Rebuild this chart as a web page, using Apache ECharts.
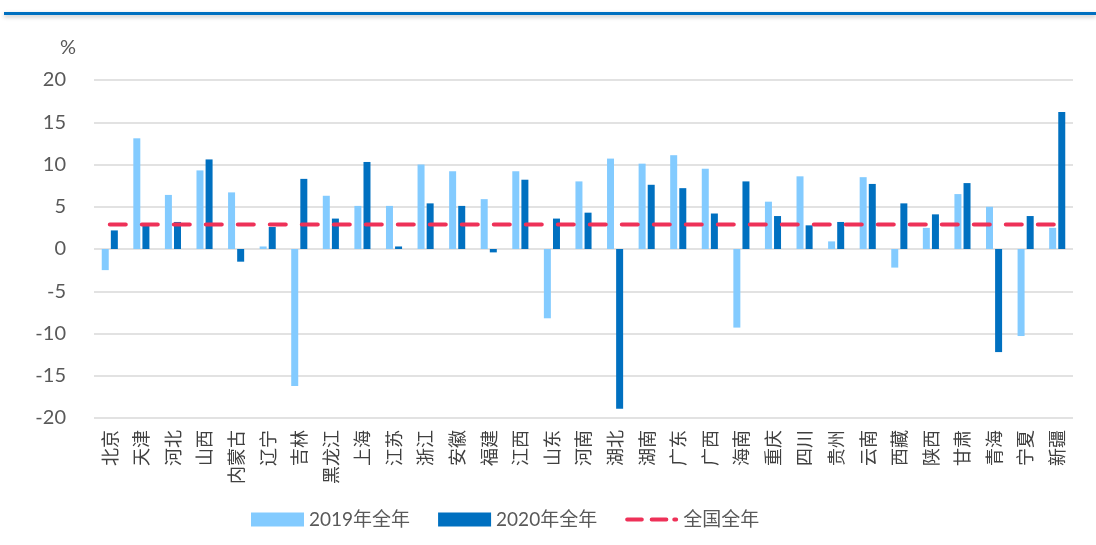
<!DOCTYPE html>
<html>
<head>
<meta charset="utf-8">
<script src="https://cdn.jsdelivr.net/npm/echarts@6/dist/echarts.min.js"></script>
<style>
  html, body { margin: 0; padding: 0; background: #fff; }
  #chartmain1 { width: 1096px; height: 545px; }
</style>
</head>
<body>
<div id="chartmain1"></div>
<script>
var provinces = ['北京','天津','河北','山西','内蒙古','辽宁','吉林','黑龙江','上海','江苏','浙江','安徽','福建','江西','山东','河南','湖北','湖南','广东','广西','海南','重庆','四川','贵州','云南','西藏','陕西','甘肃','青海','宁夏','新疆'];
var y2019 = [-2.5, 13.1, 6.4, 9.3, 6.7, 0.3, -16.2, 6.3, 5.1, 5.1, 10.0, 9.2, 5.9, 9.2, -8.2, 8.0, 10.7, 10.1, 11.1, 9.5, -9.3, 5.6, 8.6, 0.9, 8.5, -2.2, 2.5, 6.5, 5.0, -10.3, 2.5];
var y2020 = [2.2, 3.0, 3.2, 10.6, -1.5, 2.6, 8.3, 3.6, 10.3, 0.3, 5.4, 5.1, -0.4, 8.2, 3.6, 4.3, -18.9, 7.6, 7.2, 4.2, 8.0, 3.9, 2.8, 3.2, 7.7, 5.4, 4.1, 7.8, -12.2, 3.9, 16.2];
var national = 2.9;
var nationalLine = provinces.map(function () { return national; });

var txt = '#595959';
var red = '#EE3158';
// dash - dash - dot legend mark (moves at the corners keep the 53x14 box)
var dashIcon = 'path://M0,0M53,14M1,5h15a2,2 0 0 1 0,4h-15a2,2 0 0 1 0,-4zM26,5h15a2,2 0 0 1 0,4h-15a2,2 0 0 1 0,-4zM49,5h2a2,2 0 0 1 0,4h-2a2,2 0 0 1 0,-4z';

var myChart = echarts.init(document.getElementById('chartmain1'));
var option = {
    animation: false,
    textStyle: { fontFamily: 'Lato, "Noto Sans CJK SC", sans-serif' },
    graphic: [
        {
            type: 'rect',
            shape: { x: 4, y: 12, width: 1092, height: 3 },
            style: { fill: '#0070C0', shadowColor: 'rgba(0,0,0,0.25)', shadowBlur: 4, shadowOffsetY: 2 }
        }
    ],
    grid: { left: 94, right: 23, top: 80, bottom: 127 },
    legend: {
        left: 246,
        top: 505,
        itemWidth: 53,
        itemHeight: 14,
        itemGap: 28,
        textStyle: { color: txt, fontSize: 19, fontFamily: 'Lato, "Noto Sans CJK SC", sans-serif' },
        data: [
            { name: '2019年全年', icon: 'rect' },
            { name: '2020年全年', icon: 'rect' },
            { name: '全国全年', icon: dashIcon, itemStyle: { color: red } }
        ]
    },
    xAxis: {
        type: 'category',
        data: provinces,
        axisLine: { show: false, onZero: false },
        axisTick: { show: false },
        axisLabel: {
            rotate: 90,
            interval: 0,
            margin: 12,
            color: '#404040',
            fontSize: 18,
            fontFamily: '"Noto Sans CJK SC", sans-serif'
        }
    },
    yAxis: {
        type: 'value',
        min: -20,
        max: 20,
        interval: 5,
        name: '%',
        nameLocation: 'end',
        nameGap: 22,
        nameTextStyle: { color: txt, fontSize: 20, align: 'right', padding: [0, 18, 0, 0] },
        axisLine: { show: false },
        axisTick: { show: false },
        axisLabel: { color: txt, fontSize: 20, margin: 28 },
        splitLine: { lineStyle: { color: '#d9d9d9', width: 1.5 } }
    },
    series: [
        {
            name: '2019年全年',
            type: 'bar',
            data: y2019,
            barWidth: 7,
            barGap: '30%',
            itemStyle: { color: '#83CBFF' }
        },
        {
            name: '2020年全年',
            type: 'bar',
            data: y2020,
            barWidth: 7,
            itemStyle: { color: '#0070C0' }
        },
        {
            name: '全国全年',
            type: 'line',
            data: nationalLine,
            symbol: 'none',
            z: 5,
            lineStyle: { color: red, width: 4, type: [16, 16], cap: 'round' },
            itemStyle: { color: red }
        }
    ]
};
myChart.setOption(option);
</script>
</body>
</html>
